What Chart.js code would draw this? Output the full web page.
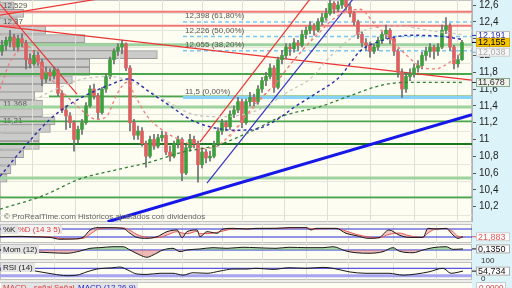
<!DOCTYPE html>
<html>
<head>
<meta charset="utf-8">
<script src="https://cdn.jsdelivr.net/npm/chart.js@4.4.1/dist/chart.umd.min.js"></script>
<style>
  body { margin: 0; background: #fff; }
  #wrap { position: relative; width: 512px; height: 288px; overflow: hidden; background: #ededea; }
  #axisBg { position: absolute; left: 472px; top: 0; width: 40px; height: 288px; background: #dcf3f9; }
  canvas { position: absolute; left: 0; }
  .tag { position: absolute; z-index: 5; font: 8px/9px "Liberation Sans", Arial, sans-serif; color: #222; background: #e4e4e4; padding: 0 2px; white-space: nowrap; }
  .note { position: absolute; z-index: 5; font: 8px/9px "Liberation Sans", Arial, sans-serif; color: #666; white-space: nowrap; }
</style>
</head>
<body>
<div id="wrap">
  <div id="axisBg"></div>
  <canvas id="prof" width="512" height="222" style="top:0"></canvas>
  <canvas id="main" width="512" height="222" style="top:0"></canvas>
  <canvas id="stoch" width="512" height="19" style="top:224px"></canvas>
  <canvas id="mom" width="512" height="16" style="top:244px"></canvas>
  <canvas id="rsi" width="512" height="18" style="top:262px"></canvas>
  <div style="position:absolute;left:0;top:282px;width:472px;height:8px;background:#fdfdf2;border-top:1px solid #c4c4c4"></div>

  <div class="note" style="left:4px;top:212px">© ProRealTime.com  Históricos ajustados con dividendos</div>
  <div class="tag" style="left:1px;top:225px">%K <span style="color:#e03a3a;background:#f4f4f4">%D (14 3 5)</span></div>
  <div class="tag" style="left:1px;top:245px">Mom (12)</div>
  <div class="tag" style="left:1px;top:263px">RSI (14)</div>
  <div class="tag" style="left:1px;top:283px;color:#e03a3a">MACD - señal</div>
  <div class="tag" style="left:52px;top:283px;color:#e03a3a">Señal</div>
  <div class="tag" style="left:76px;top:283px;color:#2424d0">MACD (12 26 9)</div>
  <div class="note" style="left:481px;top:256px;color:#333">100</div>
  <div class="note" style="left:481px;top:274px;color:#333">0</div>
  <div class="note" style="left:476px;top:282px;color:#e03a3a;background:#fff;border:1px solid #ccc;padding:0 2px">0,0000</div>
</div>

<script>
// Données des bougies
var opens = [12.05,12.12,12.17,12.22,12.10,12.20,12.15,11.95,11.90,12.00,
  11.92,11.72,11.80,11.76,11.82,11.55,11.35,11.28,11.20,11.00,
  11.12,11.20,11.40,11.60,11.52,11.32,11.60,11.75,11.95,12.05,
  12.10,12.14,11.85,11.20,11.05,11.10,10.95,10.80,11.00,10.92,
  11.02,11.05,10.85,10.80,10.95,11.00,10.60,10.90,11.00,10.95,
  10.70,10.85,10.78,10.80,10.95,11.10,11.20,11.15,11.30,11.35,
  11.45,11.20,11.45,11.50,11.45,11.60,11.70,11.75,11.85,11.62,
  11.95,12.00,12.10,12.08,12.15,12.12,12.25,12.30,12.35,12.30,
  12.40,12.45,12.50,12.62,12.55,12.60,12.66,12.58,12.50,12.40,
  12.25,12.15,12.12,12.05,12.10,12.18,12.25,12.30,12.20,12.05,
  11.80,11.60,11.75,11.78,11.85,11.88,12.00,12.05,12.10,12.05,
  12.10,12.30,12.35,12.10,11.90,11.95];
var highs = [12.18,12.22,12.30,12.25,12.24,12.26,12.18,12.02,12.06,12.04,
  11.95,11.86,11.84,11.86,11.84,11.58,11.40,11.32,11.22,11.16,
  11.24,11.44,11.64,11.66,11.55,11.62,11.78,11.98,12.08,12.14,
  12.18,12.15,11.88,11.24,11.16,11.14,10.98,11.04,11.06,11.06,
  11.10,11.08,10.92,10.98,11.04,11.02,10.94,11.06,11.04,10.98,
  10.90,10.88,10.86,10.98,11.14,11.24,11.22,11.34,11.40,11.50,
  11.48,11.48,11.56,11.54,11.64,11.74,11.80,11.90,11.88,11.98,
  12.06,12.14,12.14,12.20,12.18,12.30,12.34,12.40,12.38,12.44,
  12.50,12.56,12.67,12.64,12.64,12.70,12.68,12.62,12.52,12.42,
  12.28,12.20,12.16,12.14,12.22,12.28,12.36,12.32,12.22,12.08,
  11.84,11.80,11.84,11.90,11.94,12.04,12.10,12.14,12.12,12.14,
  12.36,12.45,12.38,12.12,12.00,12.18];
var lows = [12.00,12.06,12.10,12.06,12.05,12.10,11.84,11.85,11.88,11.88,
  11.64,11.68,11.70,11.72,11.52,11.32,11.12,11.14,10.86,10.96,
  11.06,11.18,11.38,11.48,11.24,11.30,11.56,11.72,11.90,12.00,
  12.02,11.82,11.10,11.00,11.00,10.92,10.67,10.78,10.88,10.90,
  10.98,10.82,10.74,10.78,10.90,10.51,10.58,10.86,10.90,10.49,
  10.66,10.72,10.74,10.78,10.92,11.06,11.10,11.12,11.26,11.32,
  11.14,11.18,11.40,11.40,11.42,11.56,11.64,11.72,11.56,11.60,
  11.90,11.96,12.00,12.04,12.06,12.10,12.20,12.26,12.24,12.28,
  12.36,12.42,12.48,12.50,12.52,12.56,12.54,12.46,12.36,12.20,
  12.10,12.06,11.98,12.02,12.06,12.14,12.20,12.14,12.00,11.74,
  11.50,11.56,11.70,11.74,11.80,11.84,11.94,11.98,11.96,12.00,
  12.08,12.26,12.06,11.84,11.86,11.94];
var closes = [12.12,12.18,12.22,12.10,12.20,12.15,11.95,11.90,12.00,11.92,
  11.72,11.80,11.76,11.82,11.55,11.35,11.28,11.20,11.00,11.12,
  11.20,11.40,11.60,11.52,11.32,11.60,11.75,11.95,12.05,12.10,
  12.14,11.85,11.20,11.05,11.10,10.95,10.80,11.00,10.92,11.02,
  11.05,10.85,10.80,10.95,11.00,10.60,10.90,11.00,10.95,10.70,
  10.85,10.78,10.80,10.95,11.10,11.20,11.15,11.30,11.35,11.45,
  11.20,11.45,11.50,11.45,11.60,11.70,11.75,11.85,11.62,11.95,
  12.00,12.10,12.08,12.15,12.12,12.25,12.30,12.35,12.30,12.40,
  12.45,12.50,12.62,12.55,12.60,12.66,12.58,12.50,12.40,12.25,
  12.15,12.12,12.05,12.10,12.18,12.25,12.30,12.20,12.05,11.80,
  11.60,11.75,11.78,11.85,11.88,12.00,12.05,12.10,12.05,12.10,
  12.30,12.35,12.10,11.90,11.95,12.155];

// Axe des prix et lignes de la grille verticale
var yTicks = [10.2,10.4,10.6,10.8,11,11.2,11.4,11.6,11.8,12,12.2,12.4,12.6];
var gridIdx = [13,23.75,35,45,55,65,76,86.5,97.75,108.5];

// Supports / résistances horizontaux
var greenLevels = [12.127,11.779,11.513,11.386,11.215,10.945,10.54,10.311];
var greenFrom = [-0.5,-0.5,11.75,-0.5,-0.5,-0.5,-0.5,-0.5];
var greenKind = ['pale','mid','mid','pale','mid','dark','pale','mid'];
var redLevels = [12.52,12.354];

// Fibonacci
var fibValues = [12.398,12.226,12.055,11.5];
var fibPct = ['61,80%','50,00%','38,20%','0,00%'];
var fibFrom = 45.25;

// Lignes de tendance [x1, y1, x2, y2] en (bougie, prix)
var trendRed = [[-0.5,12.35,117.5,11.707],[-0.5,12.61,18.75,11.54],[-0.5,12.48,23.75,12.67],[49.5,10.97,77,12.67]];
var trendRedDash = [[57,11.03,82,12.46]];
var trendBlue = [[51.25,10.48,87.75,12.67]];
var trendBlueBold = [[26.4,10.02,117.5,11.296]];

// Moyennes mobiles
var maBlueX = [-0.5,4.5,12,17,22,27,31.5,37,42,47,52,58.25,63.25,68.25,73.25,78.25,84.5,89.5,94.5,102,109.5,115];
var maBlueY = [10.56,10.85,11.24,11.42,11.55,11.65,11.72,11.56,11.40,11.24,11.15,11.11,11.12,11.22,11.39,11.54,11.75,12.05,12.17,12.24,12.23,12.191];
var maRedX = [-0.5,2,6.25,10.25,14.5,18.75,23.75,26.25,28.75,31.25,33.25,36.25,40.75,45.75,49.5,53.25,58.25,63.25,68.25,73.25,78.25,84.5,89.5,93.25,97,100.75,104.5,108.25,112,115];
var maRedY = [11.60,11.92,12.11,11.84,11.60,11.40,11.24,11.28,11.54,11.68,11.52,11.28,11.09,10.97,10.89,10.91,11.12,11.42,11.66,11.96,12.22,12.49,12.55,12.37,12.20,12.02,11.87,11.84,11.92,12.038];
var maGrayX = [-0.5,4.5,8.75,14.5,20.25,27,34.5,40.25,47.75,54.5,60.75,65.75,72,77,82.75,91.25,99.5,107.75,115];
var maGrayY = [11.06,11.30,11.48,11.62,11.72,11.75,11.64,11.48,11.30,11.27,11.30,11.39,11.58,11.72,12.02,12.31,12.35,12.29,12.25];
var maGreenX = [-0.5,10.25,19.5,28.75,37,45.25,53.75,62,70.25,79.5,87,95.25,102,115];
var maGreenY = [10.17,10.33,10.53,10.64,10.73,10.85,10.93,11.09,11.28,11.39,11.52,11.65,11.68,11.678];

// Profil de volume
var profPrice = [12.59,12.50,12.40,12.30,12.20,12.10,12.01,11.91,11.81,11.71,11.61,11.52,11.42,11.32,11.22,11.13,11.03,10.93,10.83,10.74,10.64,10.54];
var profVol = [9,15,11,29,54,75,100,57,57,46,27,22,27,27,35,32,25,25,15,10,7,4.5];
var profLabelPrice = [12.59,12.40,11.42,11.22];
var profLabelText = ['12,529','12,37','11,368','11,21'];

// Indicateurs
var stochX = [-0.5,4.5,7,12,14.5,17.75,20.25,22,23.75,27,30.25,32,33.75,36.25,38.75,41.25,43.75,45,46.25,48.75,49.5,51.25,53.75,55.25,57.75,61.25,63.5,68.5,71.75,76,77.25,78.5,83.5,86,88.5,91.75,94.25,96.75,99.25,101.75,105.25,106.5,108.5,111,112.75,114,115.25];
var stochK = [22,25,22,17,3,5,17,72,90,90,85,48,17,10,22,60,73,15,60,73,22,60,48,80,85,80,85,85,90,90,73,85,85,48,30,10,15,73,35,17,17,85,80,85,35,10,22];
var stochD = [24,23,23,20,10,6,10,40,75,88,88,70,38,18,15,35,60,50,45,62,45,45,55,65,80,82,83,85,88,90,82,80,84,65,40,20,14,40,50,30,18,50,80,83,60,25,21.883];
var momX = [-0.5,7,12,16.25,19.5,22,24.5,27.75,30.25,32,34.5,36.25,37.75,40.25,42.75,44.5,46.25,49.5,52.75,56.25,60.25,63.5,68.5,71.75,76,80.25,82.75,86,88.5,91.75,95.25,97.75,99.25,102.75,105.25,107.75,111,112.75,115.25];
var momV = [0,-0.21,-0.34,-0.41,-0.13,0.21,0.29,0.41,0.41,0,-0.63,-0.91,-0.63,0,0.21,-0.21,0,0.13,0.29,0.21,0.34,0.29,0.21,0.34,0.29,0.29,0.41,-0.13,-0.34,-0.41,-0.21,0.29,-0.13,-0.34,0,0.29,0.41,0.08,0.135];
var rsiX = [-0.5,4.5,9.5,12.75,16.25,18.75,21.25,23.75,27.75,29.5,31.5,33.75,36.25,39.5,42.75,45.25,47.75,51.25,54.5,57.75,61.25,63.5,67.75,71.75,76,80.25,82.75,86.75,91,96.75,100.25,103.5,106.75,110.25,112.25,115.25];
var rsiV = [60.6,66,51,39,30,33,51,66,73,77,60,39,37,43,43,33,46,43,55,66,66,70,64,73,70,75,70,51,43,43,33,39,51,70,43,54.734];

var xMin = -0.5, xMax = 117.5;
var yMin = 10.017, yMax = 12.66;

Chart.defaults.font.family = '"Liberation Sans", Arial, sans-serif';

function fmtTick(v) {
    return String(Math.round(v * 10) / 10).replace('.', ',');
}
function fixY(s) { s.width = 40; s.paddingTop = 0; s.paddingBottom = 0; }
function fixX(s) { s.height = 0; s.paddingLeft = 0; s.paddingRight = 0; }
function setGridTicks(s) { s.ticks = gridIdx.map(function(v) { return { value: v }; }); }
function setYTicks(s) { s.ticks = yTicks.map(function(v) { return { value: v }; }); }

function xGrid() {
    return {
        type: 'linear', min: xMin, max: xMax, offset: false,
        ticks: { display: false },
        grid: { color: '#e0e0d6', drawTicks: false },
        border: { display: false },
        afterBuildTicks: setGridTicks,
        afterFit: fixX
    };
}

// Fond crème des panneaux
var panelBg = {
    id: 'panelBg',
    beforeDraw: function(chart) {
        var a = chart.chartArea, c = chart.ctx;
        c.save();
        c.fillStyle = '#fdfdf1';
        c.fillRect(a.left, a.top, a.right - a.left, a.bottom - a.top);
        c.strokeStyle = '#c2c2c2';
        c.lineWidth = 1;
        c.strokeRect(a.left + 0.5, a.top + 0.5, a.right - a.left - 1, a.bottom - a.top - 1);
        c.restore();
    }
};

// Étiquettes de valeur sur l'axe de droite
var valueBoxes = {
    id: 'valueBoxes',
    afterDraw: function(chart, args, opts) {
        var items = opts.items || [];
        if (!items.length) return;
        var c = chart.ctx, ys = chart.scales.y, right = chart.chartArea.right;
        var h = 9;
        var sorted = items.slice().sort(function(a, b) { return a.value - b.value; });
        var prev = null;
        sorted.forEach(function(it) {
            var cy = ys.getPixelForValue(it.value);
            if (prev !== null && cy > prev - h + 2) cy = prev - h + 2;
            it._cy = cy;
            prev = cy;
        });
        c.save();
        c.font = '9px "Liberation Sans", Arial, sans-serif';
        c.textBaseline = 'middle';
        items.forEach(function(it) {
            var cy = it._cy;
            c.fillStyle = it.bg;
            c.fillRect(right + 4, cy - h / 2, 34, h);
            c.strokeStyle = it.bd;
            c.lineWidth = 1;
            c.strokeRect(right + 4.5, cy - h / 2 + 0.5, 33, h - 1);
            c.strokeStyle = it.fg;
            c.beginPath();
            c.moveTo(right, cy);
            c.lineTo(right + 4, cy);
            c.stroke();
            c.fillStyle = it.fg;
            c.fillText(it.value.toFixed(it.dec).replace('.', ','), right + 6, cy + 0.5);
        });
        c.restore();
    }
};

var fibLabels = {
    id: 'fibLabels',
    afterDatasetsDraw: function(chart) {
        var c = chart.ctx, xs = chart.scales.x, ys = chart.scales.y;
        c.save();
        c.font = '8px "Liberation Sans", Arial, sans-serif';
        c.fillStyle = '#555';
        c.textBaseline = 'bottom';
        fibValues.forEach(function(v, i) {
            c.fillText(String(v).replace('.', ',') + ' (' + fibPct[i] + ')', xs.getPixelForValue(fibFrom) + 2, ys.getPixelForValue(v) - 2);
        });
        c.restore();
    }
};

var profLabels = {
    id: 'profLabels',
    afterDatasetsDraw: function(chart) {
        var c = chart.ctx, ys = chart.scales.y;
        c.save();
        c.font = '8px "Liberation Sans", Arial, sans-serif';
        c.fillStyle = '#555';
        c.textBaseline = 'middle';
        profLabelPrice.forEach(function(p, i) {
            c.fillText(profLabelText[i], chart.chartArea.left + 3, ys.getPixelForValue(p));
        });
        c.restore();
    }
};

// Constructeurs de jeux de données
function hLine(v, from, color, width, dash, order) {
    return {
        type: 'line', data: [{ x: from, y: v }, { x: xMax, y: v }],
        borderColor: color, borderWidth: width, borderDash: dash || [],
        pointRadius: 0, order: order
    };
}
function seg(a, color, width, dash, order) {
    return {
        type: 'line', data: [{ x: a[0], y: a[1] }, { x: a[2], y: a[3] }],
        borderColor: color, borderWidth: width, borderDash: dash || [],
        pointRadius: 0, order: order
    };
}
function curve(xs, ys, color, width, dash, order) {
    return {
        type: 'line', data: xs.map(function(x, i) { return { x: x, y: ys[i] }; }),
        borderColor: color, borderWidth: width, borderDash: dash || [],
        pointRadius: 0, cubicInterpolationMode: 'monotone', order: order
    };
}

var greenStyle = {
    pale: { color: '#9ed29e', width: 3 },
    mid: { color: '#4aa64a', width: 1.8 },
    dark: { color: '#1c781c', width: 2 }
};

var datasets = [];
greenLevels.forEach(function(v, i) {
    var st = greenStyle[greenKind[i]];
    datasets.push(hLine(v, greenFrom[i], st.color, st.width, null, 20));
});
redLevels.forEach(function(v) { datasets.push(hLine(v, xMin, '#f07878', 2, null, 20)); });
fibValues.forEach(function(v, i) {
    if (i === fibValues.length - 1) datasets.push(hLine(v, fibFrom, '#86d2f8', 3, null, 19));
    else datasets.push(hLine(v, fibFrom, '#7cc6f2', 1.6, [4, 3], 19));
});
trendRed.forEach(function(a) { datasets.push(seg(a, '#ec3434', 1.2, null, 18)); });
trendRedDash.forEach(function(a) { datasets.push(seg(a, '#f08a8a', 1, [3, 3], 18)); });
trendBlue.forEach(function(a) { datasets.push(seg(a, '#3434c8', 1.2, null, 18)); });

datasets.push({
    type: 'bar', grouped: false, order: 12,
    data: lows.map(function(l, i) { return { x: i, y: [l, highs[i]] }; }),
    backgroundColor: '#6e6e6e', barThickness: 1
});
datasets.push({
    type: 'bar', grouped: false, order: 11, minBarLength: 1,
    data: opens.map(function(o, i) { return { x: i, y: [o, closes[i]] }; }),
    backgroundColor: opens.map(function(o, i) { return closes[i] >= o ? '#3f9f3f' : '#db6060'; }),
    barThickness: 3
});

datasets.push(curve(maGrayX, maGrayY, '#c6c6c0', 1.3, [3, 3], 5));
datasets.push(curve(maGreenX, maGreenY, '#2f7f34', 1.3, [3, 3], 4));
datasets.push(curve(maRedX, maRedY, '#f07a7a', 1.3, [3, 3], 4));
datasets.push(curve(maBlueX, maBlueY, '#2c2cae', 1.4, [3, 3], 3));
trendBlueBold.forEach(function(a) { datasets.push(seg(a, '#1717e8', 3, null, 2)); });

var noUi = { legend: { display: false }, tooltip: { enabled: false } };

// Profil de volume (couche du fond)
new Chart(document.getElementById('prof'), {
    type: 'bar',
    data: {
        datasets: [{
            data: profPrice.map(function(p, i) { return { x: profVol[i], y: p }; }),
            backgroundColor: '#cbcbc9', borderColor: '#9a9a9a', borderWidth: 1,
            barThickness: 8, grouped: false
        }]
    },
    options: {
        indexAxis: 'y', responsive: false, animation: false, events: [],
        plugins: noUi,
        scales: {
            x: { type: 'linear', display: false, min: 0, max: 300 },
            y: {
                type: 'linear', position: 'right', min: yMin, max: yMax, offset: false,
                ticks: { color: 'rgba(0,0,0,0)', font: { size: 10 }, padding: 3, callback: fmtTick },
                grid: { color: '#e6e6dc', drawTicks: false },
                border: { display: false },
                afterBuildTicks: setYTicks, afterFit: fixY
            }
        }
    },
    plugins: [panelBg, profLabels]
});

// Graphique principal
new Chart(document.getElementById('main'), {
    type: 'line',
    data: { datasets: datasets },
    options: {
        responsive: false, animation: false, events: [],
        plugins: {
            legend: { display: false }, tooltip: { enabled: false },
            valueBoxes: {
                items: [
                    { value: maGreenY[maGreenY.length - 1], dec: 3, fg: '#333', bg: '#f2f2ec', bd: '#8aa88a' },
                    { value: maRedY[maRedY.length - 1], dec: 3, fg: '#aaaaaa', bg: '#f7f7f7', bd: '#cccccc' },
                    { value: maBlueY[maBlueY.length - 1], dec: 3, fg: '#2c2cae', bg: '#ffffff', bd: '#bbbbbb' },
                    { value: closes[closes.length - 1], dec: 3, fg: '#000', bg: '#f6c400', bd: '#d6a400' }
                ]
            }
        },
        scales: {
            x: xGrid(),
            y: {
                type: 'linear', position: 'right', min: yMin, max: yMax, offset: false,
                ticks: { color: '#222', font: { size: 10 }, padding: 3, callback: fmtTick },
                grid: { drawOnChartArea: false, tickColor: '#555', tickLength: 4 },
                border: { color: '#b4b4b4' },
                afterBuildTicks: setYTicks, afterFit: fixY
            }
        }
    },
    plugins: [fibLabels, valueBoxes]
});

function indicator(id, lo, hi, sets, boxes) {
    return new Chart(document.getElementById(id), {
        type: 'line',
        data: { datasets: sets },
        options: {
            responsive: false, animation: false, events: [],
            layout: { padding: { right: 40 } },
            plugins: { legend: { display: false }, tooltip: { enabled: false }, valueBoxes: { items: boxes } },
            scales: { x: xGrid(), y: { type: 'linear', display: false, min: lo, max: hi } }
        },
        plugins: [panelBg, valueBoxes]
    });
}

// Stochastique
var kLine = curve(stochX, stochK, '#1a1a1a', 1, null, 1);
var dLine = curve(stochX, stochD, '#e25a5a', 1, null, 2);
dLine.fill = 0;
dLine.backgroundColor = 'rgba(238,140,140,0.45)';
indicator('stoch', -25, 117.5, [
    kLine, dLine,
    hLine(80, xMin, '#2b2bdc', 1, null, 5),
    hLine(20, xMin, '#2b2bdc', 1, null, 5)
], [{ value: stochD[stochD.length - 1], dec: 3, fg: '#e25a5a', bg: '#ffffff', bd: '#cccccc' }]);

// Momentum
var momLine = curve(momX, momV, '#1a1a1a', 1, null, 1);
momLine.fill = { target: { value: 0 }, above: 'rgba(120,196,120,0.6)', below: 'rgba(226,128,128,0.55)' };
indicator('mom', -1.25, 0.75, [
    momLine,
    hLine(0, xMin, '#2b2bdc', 1, null, 5)
], [{ value: momV[momV.length - 1], dec: 4, fg: '#111', bg: '#ffffff', bd: '#aaaaaa' }]);

// RSI
indicator('rsi', 6.8, 104, [
    curve(rsiX, rsiV, '#1a1a1a', 1, null, 1),
    hLine(70, xMin, '#2b2bdc', 1, null, 5),
    hLine(30, xMin, '#a4a4f0', 3, null, 5)
], [{ value: rsiV[rsiV.length - 1], dec: 3, fg: '#111', bg: '#ffffff', bd: '#aaaaaa' }]);
</script>
</body>
</html>
